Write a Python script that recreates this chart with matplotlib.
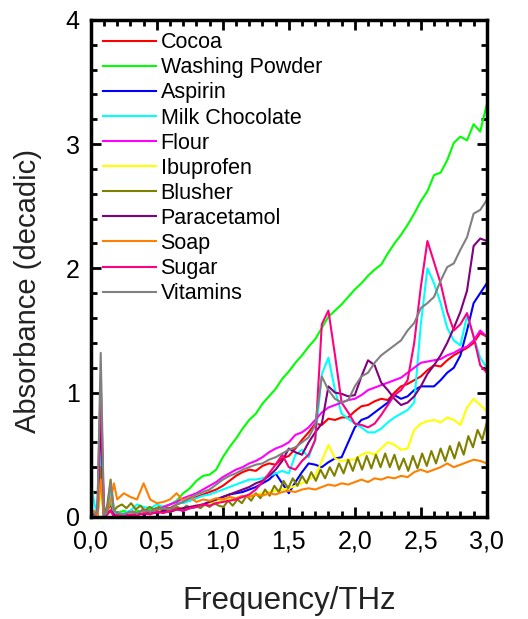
import numpy as np
import matplotlib
matplotlib.use("Agg")
import matplotlib.pyplot as plt
from matplotlib.ticker import MultipleLocator, FuncFormatter

plt.rcParams['font.family'] = ['Liberation Sans', 'DejaVu Sans']

# frequency grid (THz): fine steps near the low-frequency spike, then 0.05
freq = np.r_[np.arange(0, 0.2, 0.025), np.arange(0.2, 3.001, 0.05)]
# blusher was sampled more densely (its zig-zag is finer)
freq_blusher = np.r_[np.arange(0, 0.2, 0.025), np.linspace(0.2, 3.0, 81)]

# absorbance (decadic)
cocoa = [0.05, 0.02, 0.0, 0.9, 0.0, 0.05, 0.1, 0.02, 0.03,
         0.02, 0.05, 0.03, 0.06, 0.04, 0.05, 0.08, 0.07, 0.1, 0.12, 0.13, 0.16, 0.18, 0.2, 0.22, 0.25,
         0.29, 0.33, 0.36, 0.38, 0.37, 0.41, 0.43, 0.42, 0.47, 0.49, 0.55, 0.62, 0.68, 0.75, 0.74, 0.79, 0.78, 0.80, 0.80, 0.85,
         0.89, 0.90, 0.93, 0.95, 0.94, 1.0, 1.05, 1.07, 1.10, 1.13, 1.18, 1.22, 1.21, 1.26, 1.30, 1.33, 1.36, 1.40, 1.48, 1.45]
washing_powder = [0.05, 0.02, 0.0, 0.3, 0.0, 0.08, 0.12, 0.05, 0.03,
                  0.05, 0.03, 0.05, 0.04, 0.06, 0.07, 0.08, 0.1, 0.13, 0.19, 0.23, 0.29, 0.33, 0.34, 0.38, 0.48,
                  0.56, 0.63, 0.71, 0.78, 0.83, 0.91, 0.97, 1.03, 1.11, 1.17, 1.24, 1.30, 1.37, 1.43, 1.52, 1.61, 1.66, 1.71, 1.77, 1.83,
                  1.88, 1.94, 1.99, 2.03, 2.12, 2.20, 2.27, 2.35, 2.44, 2.54, 2.62, 2.75, 2.77, 2.87, 3.01, 3.06, 3.03, 3.16, 3.10, 3.32]
aspirin = [0.05, 0.0, 0.02, 0.4, 0.0, 0.03, 0.05, 0.02, 0.0,
           0.02, 0.01, 0.03, 0.02, 0.04, 0.03, 0.05, 0.04, 0.06, 0.05, 0.07, 0.08, 0.1, 0.12, 0.14, 0.16,
           0.18, 0.19, 0.2, 0.22, 0.24, 0.27, 0.3, 0.35, 0.27, 0.19, 0.28, 0.36, 0.43, 0.42, 0.40, 0.44, 0.47, 0.48, 0.6, 0.72,
           0.78, 0.80, 0.84, 0.88, 0.92, 0.98, 0.95, 0.97, 1.02, 1.05, 1.05, 1.05, 1.10, 1.16, 1.20, 1.30, 1.50, 1.72, 1.80, 1.88]
milk_chocolate = [0.28, 0.12, 0.0, 0.5, 0.0, 0.05, 0.2, 0.03, 0.02,
                  0.03, 0.05, 0.1, 0.08, 0.07, 0.1, 0.08, 0.1, 0.12, 0.11, 0.13, 0.15, 0.17, 0.18, 0.2, 0.22,
                  0.24, 0.26, 0.28, 0.3, 0.30, 0.31, 0.33, 0.35, 0.37, 0.35, 0.5, 0.54, 0.48, 0.62, 1.15, 1.28, 1.02, 0.83, 0.79, 0.75,
                  0.72, 0.68, 0.68, 0.71, 0.76, 0.80, 0.83, 0.86, 0.92, 1.55, 2.0, 1.88, 1.72, 1.52, 1.42, 1.38, 1.62, 1.45, 1.28, 1.20]
flour = [0.02, 0.0, 0.02, 0.3, 0.0, 0.02, 0.05, 0.02, 0.0,
         0.02, 0.04, 0.03, 0.05, 0.04, 0.06, 0.08, 0.1, 0.12, 0.15, 0.17, 0.19, 0.22, 0.25, 0.28, 0.32,
         0.35, 0.38, 0.40, 0.43, 0.45, 0.48, 0.52, 0.55, 0.57, 0.60, 0.66, 0.68, 0.72, 0.78, 0.84, 0.88, 0.90, 0.92, 0.94, 0.95,
         0.98, 1.02, 1.04, 1.06, 1.08, 1.10, 1.12, 1.16, 1.20, 1.24, 1.25, 1.26, 1.27, 1.30, 1.32, 1.35, 1.37, 1.42, 1.50, 1.45]
ibuprofen = [0.02, 0.0, 0.02, 0.2, 0.0, 0.02, 0.04, 0.02, 0.0,
             0.02, 0.03, 0.02, 0.04, 0.03, 0.04, 0.05, 0.04, 0.06, 0.07, 0.08, 0.09, 0.1, 0.11, 0.12, 0.13,
             0.14, 0.15, 0.16, 0.17, 0.18, 0.19, 0.2, 0.21, 0.22, 0.23, 0.25, 0.27, 0.30, 0.33, 0.45, 0.58, 0.47, 0.45, 0.46, 0.46,
             0.50, 0.52, 0.50, 0.55, 0.60, 0.58, 0.54, 0.55, 0.70, 0.75, 0.77, 0.78, 0.76, 0.80, 0.78, 0.74, 0.88, 0.95, 0.90, 0.85]
blusher = [0.02, 0.0, 0.05, 0.4, 0.0, 0.1, 0.3, 0.05,
           0.08, 0.1, 0.07, 0.11, 0.06, 0.09, 0.05, 0.08, 0.06, 0.08, 0.05, 0.07, 0.06, 0.08, 0.06, 0.09,
           0.07, 0.09, 0.07, 0.10, 0.08, 0.11, 0.09,
           0.08, 0.13, 0.09, 0.14, 0.11, 0.17, 0.13, 0.19, 0.15, 0.22, 0.17, 0.25, 0.20, 0.29, 0.23, 0.31,
           0.25, 0.33, 0.27, 0.36, 0.29, 0.38, 0.31, 0.40, 0.33, 0.43, 0.35, 0.46, 0.37, 0.48, 0.38, 0.49,
           0.39, 0.50, 0.40, 0.51, 0.40, 0.50, 0.38, 0.47, 0.37, 0.49, 0.39, 0.51, 0.41, 0.53, 0.43, 0.55,
           0.45, 0.57, 0.47, 0.60, 0.50, 0.65, 0.56, 0.70, 0.62, 0.76]
paracetamol = [0.02, 0.0, 0.02, 0.8, 0.0, 0.03, 0.05, 0.02, 0.0,
               0.02, 0.01, 0.03, 0.02, 0.04, 0.03, 0.05, 0.04, 0.06, 0.07, 0.08, 0.09, 0.1, 0.12, 0.14, 0.16,
               0.18, 0.20, 0.22, 0.24, 0.27, 0.29, 0.33, 0.38, 0.45, 0.55, 0.52, 0.50, 0.60, 0.68, 0.75, 1.05, 1.00, 0.99, 0.97, 0.98,
               1.13, 1.26, 1.22, 1.08, 1.02, 0.95, 0.90, 0.92, 0.97, 1.05, 1.15, 1.22, 1.30, 1.40, 1.52, 1.65, 1.82, 2.18, 2.24, 2.22]
soap = [0.0, 0.05, 0.0, 0.3, 0.0, 0.05, 0.12, 0.27, 0.14,
        0.19, 0.16, 0.14, 0.27, 0.14, 0.11, 0.12, 0.14, 0.19, 0.13, 0.16, 0.12, 0.14, 0.13, 0.15, 0.14,
        0.16, 0.15, 0.17, 0.16, 0.18, 0.17, 0.19, 0.18, 0.2, 0.21, 0.20, 0.22, 0.23, 0.22, 0.24, 0.26, 0.25, 0.27, 0.26, 0.28,
        0.30, 0.28, 0.31, 0.30, 0.32, 0.31, 0.33, 0.32, 0.36, 0.38, 0.36, 0.38, 0.40, 0.43, 0.40, 0.42, 0.44, 0.46, 0.45, 0.43]
sugar = [0.02, 0.0, 0.05, 1.1, 0.0, 0.02, 0.05, 0.0, 0.02,
         0.0, 0.02, 0.01, 0.03, 0.02, 0.04, 0.03, 0.05, 0.06, 0.05, 0.07, 0.08, 0.1, 0.09, 0.11, 0.12,
         0.13, 0.14, 0.16, 0.18, 0.22, 0.28, 0.35, 0.42, 0.50, 0.40, 0.38, 0.45, 0.50, 0.62, 1.55, 1.66, 1.30, 0.92, 0.84, 0.75,
         0.74, 0.72, 0.75, 0.82, 0.90, 0.98, 1.02, 1.10, 1.40, 1.85, 2.22, 2.05, 1.88, 1.65, 1.50, 1.55, 1.64, 1.45, 1.22, 1.16]
vitamins = [0.02, 0.0, 0.05, 1.32, 0.0, 0.05, 0.28, 0.05, 0.03,
            0.02, 0.04, 0.03, 0.05, 0.04, 0.06, 0.07, 0.06, 0.1, 0.12, 0.15, 0.18, 0.2, 0.22, 0.26, 0.30,
            0.33, 0.35, 0.38, 0.40, 0.42, 0.43, 0.46, 0.48, 0.51, 0.54, 0.56, 0.60, 0.64, 0.74, 1.13, 1.02, 0.95, 0.92, 0.94, 1.05,
            1.13, 1.16, 1.24, 1.30, 1.34, 1.38, 1.42, 1.50, 1.56, 1.68, 1.72, 1.77, 1.90, 2.01, 2.04, 2.15, 2.25, 2.44, 2.47, 2.55]

series = [
    ("Cocoa", freq, cocoa, "#ff0000"),
    ("Washing Powder", freq, washing_powder, "#00ff00"),
    ("Aspirin", freq, aspirin, "#0000ff"),
    ("Milk Chocolate", freq, milk_chocolate, "#00ffff"),
    ("Flour", freq, flour, "#ff00ff"),
    ("Ibuprofen", freq, ibuprofen, "#ffff00"),
    ("Blusher", freq_blusher, blusher, "#808000"),
    ("Paracetamol", freq, paracetamol, "#800080"),
    ("Soap", freq, soap, "#ff8000"),
    ("Sugar", freq, sugar, "#ff0080"),
    ("Vitamins", freq, vitamins, "#808080"),
]

fig = plt.figure(figsize=(5.28, 6.19), dpi=100)
ax = fig.add_axes([0.172, 0.165, 0.75, 0.803])

for name, x, vals, col in series:
    ax.plot(x, vals, color=col, lw=1.5, label=name)

ax.set_xlim(0, 3.0)
ax.set_ylim(0, 4)
ax.xaxis.set_major_locator(MultipleLocator(0.5))
ax.xaxis.set_minor_locator(MultipleLocator(0.1))
ax.yaxis.set_major_locator(MultipleLocator(1))
ax.yaxis.set_minor_locator(MultipleLocator(0.2))
ax.xaxis.set_major_formatter(FuncFormatter(lambda v, p: f"{v:.1f}".replace(".", ",")))
ax.yaxis.set_major_formatter(FuncFormatter(lambda v, p: f"{v:.0f}"))

ax.tick_params(which="both", direction="in", top=True, right=True, width=2,
               labelsize=18, colors="black")
ax.tick_params(which="major", length=7)
ax.tick_params(which="minor", length=4)
ax.tick_params(axis="x", which="major", pad=9)
ax.tick_params(axis="y", which="major", pad=8)
for sp in ax.spines.values():
    sp.set_linewidth(2.5)

ax.set_xlabel("Frequency/THz", fontsize=22.5, color="#222222", va="center")
ax.xaxis.set_label_coords(0.5, -0.169)
ax.set_ylabel("Absorbance (decadic)", fontsize=21, color="#222222", va="center")
ax.yaxis.set_label_coords(-0.159, 0.455)

ax.legend(loc="upper left", bbox_to_anchor=(0.032, 0.975), frameon=False,
          fontsize=15.5, handlelength=2.42, handletextpad=0.23, labelspacing=0.19,
          borderpad=0, borderaxespad=0)

fig.savefig("out.png", dpi=100)
